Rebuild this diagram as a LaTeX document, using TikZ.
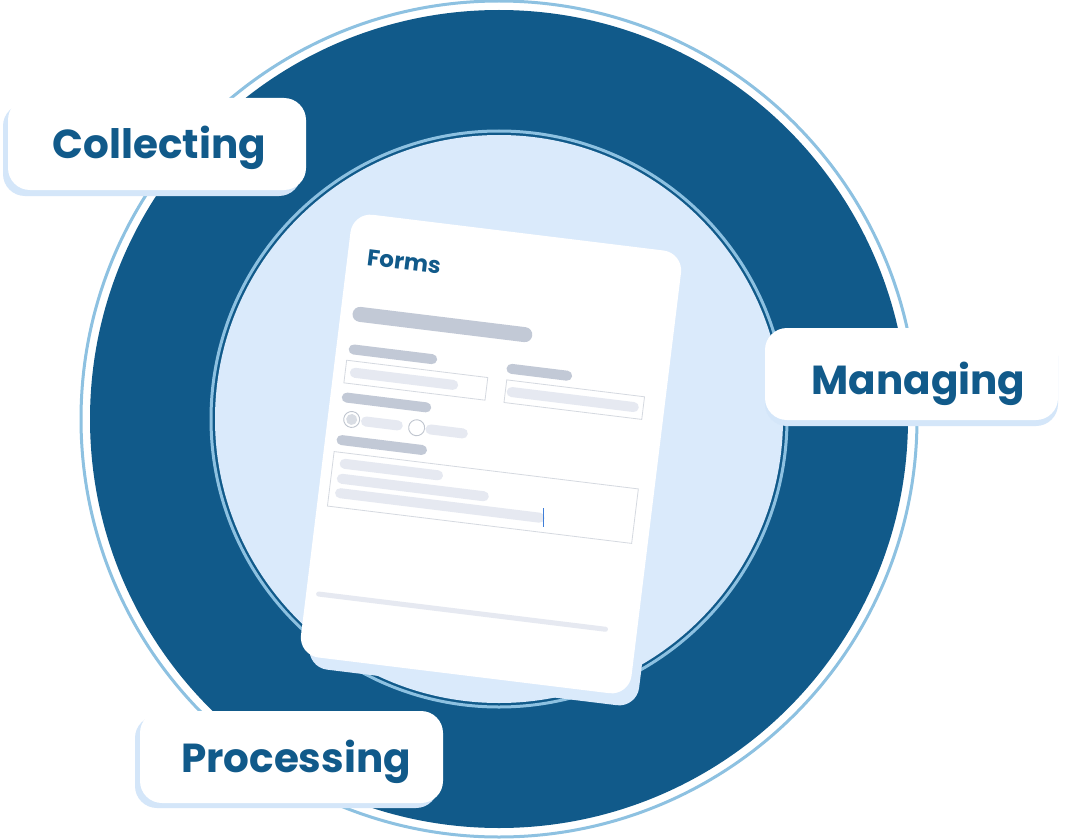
\documentclass[tikz,border=0pt]{standalone}
\usepackage{fontspec}
\newfontfamily\pop{Poppins}
\definecolor{ringdark}{HTML}{115A8A}
\definecolor{ringline}{HTML}{8DC1E1}
\definecolor{pale}{HTML}{DAEAFB}
\definecolor{lshadow}{HTML}{D4E6F9}
\definecolor{txtblue}{HTML}{115A8A}
\definecolor{bardark}{HTML}{C2C9D6}
\definecolor{barlight}{HTML}{E6E9F1}
\definecolor{boxline}{HTML}{D5D9E0}
\definecolor{radioline}{HTML}{BFC5CF}
\definecolor{radiofill}{HTML}{D9DDE4}
\definecolor{cursorc}{HTML}{3F7ED8}
\begin{document}
\begin{tikzpicture}[x=1pt,y=-1pt,
  lshad/.style={fill=lshadow, rounded corners=22pt},
  lbox/.style={fill=white, rounded corners=22pt, inner sep=0pt},
  ltext/.style={font=\pop\bfseries\fontsize{40.5}{46}\selectfont, text=txtblue, inner sep=0pt},
  darkbar/.style={draw=bardark, line cap=round},
  lightbar/.style={draw=barlight, line cap=round},
  fieldbox/.style={draw=boxline, line width=0.8pt},
  radiobtn/.style={draw=radioline, line width=0.9pt}]
\useasboundingbox (0,0) rectangle (1068,840);
\fill[white] (0,0) rectangle (1068,840);
% rings
\coordinate (ctr) at (499,419);
\draw[ringline, line width=3pt] (ctr) circle (418pt);
\fill[ringdark] (ctr) circle (409pt);
\draw[ringline, line width=3pt] (ctr) circle (288pt);
\fill[pale] (ctr) circle (284pt);
% form card
\begin{scope}[shift={(491,454)}, rotate=-7]
  \fill[pale, rounded corners=20pt] (-156.5,-213) rectangle (175.5,234);
  \fill[white, rounded corners=20pt] (-166.5,-223) rectangle (166.5,223);
  \node[anchor=base west, transform shape, inner sep=0pt, text=txtblue,
        font=\pop\bfseries\fontsize{23}{26}\selectfont] (forms) at (-147,-172) {Forms};
  \draw[darkbar, line width=15pt] (-147,-122.6) -- (19,-122.6);
  % row 1
  \draw[darkbar, line width=10pt] (-149,-87) -- (-70,-87);
  \draw[darkbar, line width=10pt] (10,-87) -- (66,-87);
  \draw[fieldbox] (-154.7,-75.5) rectangle (-12.5,-52.7);
  \draw[fieldbox] (6.6,-75.5) rectangle (145.4,-52.7);
  \draw[lightbar, line width=10pt] (-145,-64) -- (-46,-64);
  \draw[lightbar, line width=10pt] (13,-64) -- (136,-64);
  % radio row
  \draw[darkbar, line width=10pt] (-150,-38.4) -- (-70,-38.4);
  \draw[radiobtn, fill=white] (-142.5,-17.3) circle (8pt);
  \fill[radiofill] (-142.5,-17.3) circle (5.5pt);
  \draw[lightbar, line width=10pt] (-128,-17) -- (-96,-17);
  \draw[radiobtn, fill=white] (-77,-17) circle (8pt);
  \draw[lightbar, line width=10pt] (-63,-17) -- (-30.5,-17);
  % text area
  \draw[darkbar, line width=10pt] (-150,4.4) -- (-69,4.4);
  \draw[fieldbox] (-156,16.7) rectangle (150.5,71.6);
  \draw[lightbar, line width=10pt] (-144,27.6) -- (-50,27.6);
  \draw[lightbar, line width=10pt] (-145,42.8) -- (-2,42.8);
  \draw[lightbar, line width=10pt] (-145,57.3) -- (56,57.3);
  % bottom rule
  \draw[lightbar, line width=5pt] (-154,160) -- (135,160);
\end{scope}
\draw[cursorc, line width=1.5pt] (543.3,508.3) -- (543.3,526.7);
% labels
\fill[lshad] (3,104) rectangle (301,196);
\node[lbox, minimum width=298pt, minimum height=92pt] (collectbox) at (157,144) {};
\node[ltext, anchor=base] (collect) at (159.5,158) {Collecting};
\fill[lshad] (765,334) rectangle (1058,426);
\node[lbox, minimum width=293pt, minimum height=92pt] (managebox) at (911.5,374) {};
\node[ltext, anchor=base] (manage) at (918.5,394) {Managing};
\fill[lshad] (135,716) rectangle (438,808);
\node[lbox, minimum width=303pt, minimum height=92pt] (processbox) at (291.5,757) {};
\node[ltext, anchor=base] (process) at (296,772) {Processing};
\end{tikzpicture}
\end{document}
